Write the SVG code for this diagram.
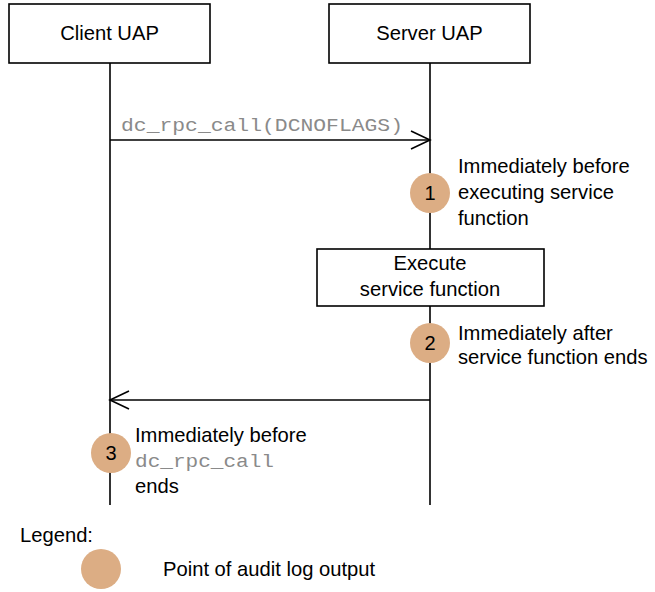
<svg xmlns="http://www.w3.org/2000/svg" width="655" height="592" viewBox="0 0 655 592">
  <style>
    .box { fill: #fff; stroke: #000; stroke-width: 1.6; }
    .line { fill: none; stroke: #000; stroke-width: 1.6; }
    .txt { font-family: "Liberation Sans", Arial, sans-serif; font-size: 20.2px; fill: #000; }
    .mono { font-family: "Liberation Mono", "Courier New", monospace; font-size: 19px; fill: #8a8a8a; }
    .pt { fill: #dcad84; }
    .num { font-family: "Liberation Sans", Arial, sans-serif; font-size: 20px; fill: #000; text-anchor: middle; }
  </style>
  <rect width="655" height="592" fill="#fff"/>

  <g id="client">
    <rect class="box" x="9" y="4" width="201" height="59"/>
    <text class="txt" x="109.5" y="40" text-anchor="middle">Client UAP</text>
  </g>
  <g id="server">
    <rect class="box" x="329" y="4" width="201" height="59"/>
    <text class="txt" x="429.5" y="40" text-anchor="middle">Server UAP</text>
  </g>

  <g id="lifelines">
    <line class="line" x1="110" y1="63" x2="110" y2="505"/>
    <line class="line" x1="430" y1="63" x2="430" y2="249"/>
    <line class="line" x1="430" y1="306" x2="430" y2="505"/>
  </g>

  <g id="connectors">
    <line class="line" x1="110" y1="140" x2="430" y2="140"/>
    <polyline class="line" points="411,131 430,140 411,149"/>
    <text class="mono" x="121" y="131" textLength="282" lengthAdjust="spacingAndGlyphs">dc_rpc_call(DCNOFLAGS)</text>
    <line class="line" x1="430" y1="400" x2="110" y2="400"/>
    <polyline class="line" points="129,391 110,400 129,409"/>
  </g>

  <g id="execute">
    <rect class="box" x="317" y="249" width="227" height="57"/>
    <text class="txt" x="430" y="270" text-anchor="middle">Execute</text>
    <text class="txt" x="430" y="296" text-anchor="middle">service function</text>
  </g>

  <g id="point1">
    <circle class="pt" cx="430" cy="193" r="20"/>
    <text class="num" x="430" y="200">1</text>
    <text class="txt" x="458" y="173">Immediately before</text>
    <text class="txt" x="458" y="199">executing service</text>
    <text class="txt" x="458" y="225">function</text>
  </g>

  <g id="point2">
    <circle class="pt" cx="430" cy="343" r="20"/>
    <text class="num" x="430" y="350">2</text>
    <text class="txt" x="458" y="340">Immediately after</text>
    <text class="txt" x="458" y="364">service function ends</text>
  </g>

  <g id="point3">
    <circle class="pt" cx="111" cy="453" r="20"/>
    <text class="num" x="111" y="460">3</text>
    <text class="txt" x="135" y="442">Immediately before</text>
    <text class="mono" x="135" y="467" textLength="139" lengthAdjust="spacingAndGlyphs">dc_rpc_call</text>
    <text class="txt" x="135" y="493">ends</text>
  </g>

  <g id="legend">
    <text class="txt" x="20" y="542">Legend:</text>
    <circle class="pt" cx="101" cy="569" r="20"/>
    <text class="txt" x="163" y="576">Point of audit log output</text>
  </g>
</svg>
